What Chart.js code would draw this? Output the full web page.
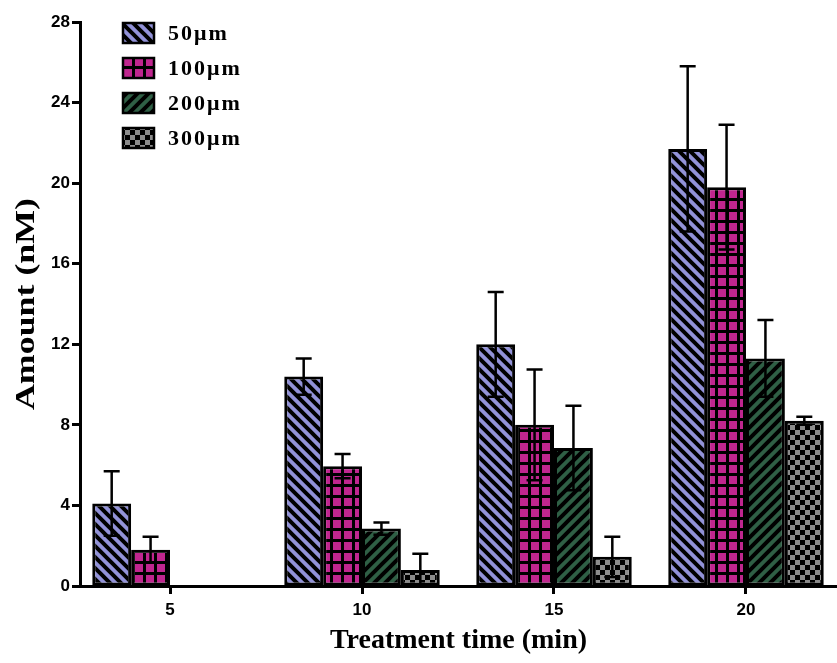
<!DOCTYPE html>
<html>
<head>
<meta charset="utf-8">
<script src="https://cdn.jsdelivr.net/npm/chart.js@4.4.0/dist/chart.umd.min.js"></script>
<style>
  body { margin: 0; background: #fff; }
  #wrap { width: 837px; height: 663px; }
</style>
</head>
<body>
<div id="wrap"><canvas id="myBarChart" width="837" height="663"></canvas></div>
<script>
// treatment time (min)
var times = [5, 10, 15, 20];
var series_names = ["50μm", "100μm", "200μm", "300μm"];

var amount_50 = [4.1, 10.4, 12.0, 21.7];
var err_50 = [1.6, 0.9, 2.6, 4.1];
var amount_100 = [1.8, 5.95, 8.0, 19.8];
var err_100 = [0.65, 0.6, 2.75, 3.1];
var amount_200 = [null, 2.85, 6.85, 11.3];
var err_200 = [null, 0.3, 2.1, 1.9];
var amount_300 = [null, 0.8, 1.45, 8.2];
var err_300 = [null, 0.8, 1.0, 0.2];

var y_ticks = [0, 4, 8, 12, 16, 20, 24, 28];
var y_title = "Amount (nM)";
var x_title = "Treatment time (min)";

function make_pattern(kind, color)
{
    var s = (kind == "check") ? 10 : 11;
    var c = document.createElement("canvas");
    c.width = s; c.height = s;
    var g = c.getContext("2d");
    g.fillStyle = color;
    g.fillRect(0, 0, s, s);
    g.fillStyle = "#000";
    g.strokeStyle = "#000";
    if (kind == "back" || kind == "fwd") {
        g.lineWidth = 4;
        g.beginPath();
        if (kind == "back") {
            g.moveTo(-2, -2); g.lineTo(s + 2, s + 2);
            g.moveTo(-2, s - 2); g.lineTo(2, s + 2);
            g.moveTo(s - 2, -2); g.lineTo(s + 2, 2);
        } else {
            g.moveTo(-2, s + 2); g.lineTo(s + 2, -2);
            g.moveTo(-2, 2); g.lineTo(2, -2);
            g.moveTo(s - 2, s + 2); g.lineTo(s + 2, s - 2);
        }
        g.stroke();
    } else if (kind == "grid") {
        g.fillRect(0, 0, s, 3);
        g.fillRect(0, 0, 3, s);
    } else if (kind == "check") {
        g.fillRect(0, 0, 5, 5);
        g.fillRect(5, 5, 5, 5);
    }
    return g.createPattern(c, "repeat");
}

var fills = [
    make_pattern("back", "#9292d8"),
    make_pattern("grid", "#c0268f"),
    make_pattern("fwd", "#2f5f45"),
    make_pattern("check", "#8c8c8c")
];
var values = [amount_50, amount_100, amount_200, amount_300];
var errors = [err_50, err_100, err_200, err_300];

var datasets = values.map(function (v, k) {
    return {
        label: series_names[k],
        data: times.map(function (t, i) { return { x: t, y: v[i] }; }),
        errs: errors[k],
        backgroundColor: fills[k],
        borderColor: "#000",
        borderWidth: 3,
        borderSkipped: false,
        categoryPercentage: 0.81,
        barPercentage: 1.0
    };
});

var error_bars = {
    id: "error_bars",
    afterDatasetsDraw: function (chart) {
        var ctx = chart.ctx;
        var ys = chart.scales.y;
        ctx.save();
        ctx.strokeStyle = "#000";
        ctx.lineWidth = 2.5;
        chart.data.datasets.forEach(function (ds, k) {
            var meta = chart.getDatasetMeta(k);
            meta.data.forEach(function (bar, i) {
                var v = ds.data[i].y, e = ds.errs[i];
                if (v == null || e == null) return;
                var x = bar.x;
                var top = ys.getPixelForValue(v + e);
                var bot = ys.getPixelForValue(v - e);
                ctx.beginPath();
                ctx.moveTo(x, top); ctx.lineTo(x, bot);
                ctx.moveTo(x - 8, top); ctx.lineTo(x + 8, top);
                ctx.moveTo(x - 8, bot); ctx.lineTo(x + 8, bot);
                ctx.stroke();
            });
        });
        ctx.restore();
    }
};

// legend boxes inside the plot + tall y title
var extras = {
    id: "extras",
    afterDraw: function (chart) {
        var ctx = chart.ctx;
        var area = chart.chartArea;
        ctx.save();
        ctx.font = "bold 22px 'Liberation Serif'";
        ctx.textBaseline = "middle";
        ctx.letterSpacing = "2px";
        chart.data.datasets.forEach(function (ds, k) {
            var y = 23 + k * 35;
            ctx.fillStyle = ds.backgroundColor;
            ctx.fillRect(123, y, 31, 20);
            ctx.strokeStyle = "#000";
            ctx.lineWidth = 2.5;
            ctx.strokeRect(123, y, 31, 20);
            ctx.fillStyle = "#000";
            ctx.fillText(ds.label, 168, y + 11);
        });
        ctx.restore();

        ctx.save();
        ctx.translate(27, (area.top + area.bottom) / 2);
        ctx.rotate(-Math.PI / 2);
        ctx.scale(1.28, 1);
        ctx.font = "bold 28px 'Liberation Serif'";
        ctx.textAlign = "center";
        ctx.textBaseline = "middle";
        ctx.fillStyle = "#000";
        ctx.fillText(y_title, 0, 0);
        ctx.restore();
    }
};

var ctx = document.getElementById("myBarChart");
var myChart = new Chart(ctx, {
    type: "bar",
    data: { datasets: datasets },
    plugins: [error_bars, extras],
    options: {
        responsive: false,
        animation: false,
        layout: { padding: { top: 22, right: 0, left: 0, bottom: 0 } },
        plugins: { legend: { display: false }, tooltip: { enabled: false } },
        scales: {
            x: {
                type: "linear",
                offset: false,
                min: 2.656,
                max: 22.37,
                afterBuildTicks: function (scale) {
                    scale.ticks = times.map(function (t) { return { value: t }; });
                },
                afterFit: function (scale) { scale.height = 77; },
                ticks: {
                    color: "#000",
                    padding: 6,
                    font: { family: "'Liberation Sans'", size: 17, weight: "bold" },
                    callback: function (v) { return String(v); }
                },
                grid: { offset: false, drawOnChartArea: false, drawTicks: true, tickLength: 8, tickWidth: 3, color: "#000" },
                border: { display: true, width: 3, color: "#000" },
                title: {
                    display: true,
                    text: x_title,
                    color: "#000",
                    font: { family: "'Liberation Serif'", size: 28, weight: "bold" },
                    padding: { top: 0, bottom: 5 }
                }
            },
            y: {
                min: 0,
                max: 28,
                afterBuildTicks: function (scale) {
                    scale.ticks = y_ticks.map(function (t) { return { value: t }; });
                },
                afterFit: function (scale) { scale.width = 80; },
                ticks: {
                    color: "#000",
                    padding: 2,
                    font: { family: "'Liberation Sans'", size: 17, weight: "bold" }
                },
                grid: { drawOnChartArea: false, drawTicks: true, tickLength: 8, tickWidth: 3, color: "#000" },
                border: { display: true, width: 3, color: "#000" },
                title: { display: false }
            }
        }
    }
});
</script>
</body>
</html>
